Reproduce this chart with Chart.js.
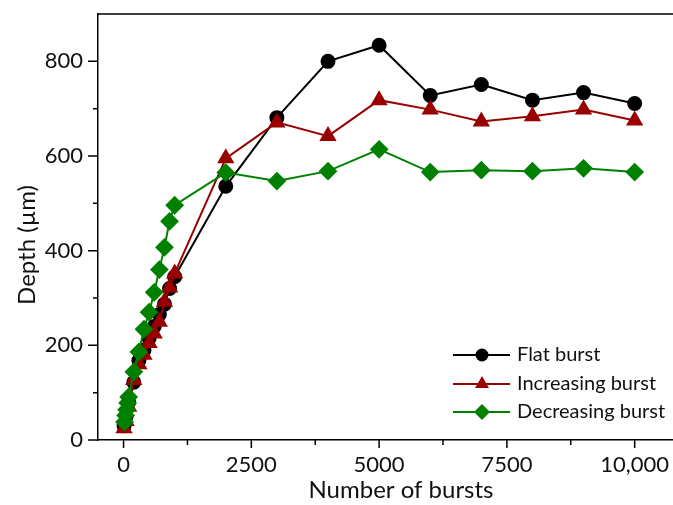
<!DOCTYPE html>
<html>
<head>
<meta charset="utf-8">
<script src="https://cdn.jsdelivr.net/npm/chart.js@4.4.0/dist/chart.umd.min.js"></script>
<style>
html, body { margin: 0; padding: 0; background: #fff; overflow: hidden; }
#wrap { width: 673px; height: 505px; }
</style>
</head>
<body>
<div id="wrap"><canvas id="myChart" width="673" height="505"></canvas></div>
<script>
// numero di burst (asse x)
var burstsX = [10, 50, 100, 200, 300, 400, 500, 600, 700, 800, 900, 1000, 2000, 3000, 4000, 5000, 6000, 7000, 8000, 9000, 10000];
var flatY = [30, 50, 80, 122, 168, 190, 215, 240, 265, 287, 320, 345, 536, 681, 800, 834, 728, 751, 718, 734, 711];
var incY = [25, 40, 70, 127, 160, 180, 205, 225, 250, 292, 322, 352, 595, 671, 642, 718, 698, 673, 684, 698, 675];
var decX = [20, 40, 60, 80, 100, 200, 300, 400, 500, 600, 700, 800, 900, 1000, 2000, 3000, 4000, 5000, 6000, 7000, 8000, 9000, 10000];
var decY = [38, 52, 64, 78, 91, 144, 186, 234, 270, 312, 360, 407, 462, 496, 565, 547, 568, 614, 566, 570, 568, 574, 566];

var xTicks = [0, 2500, 5000, 7500, 10000];
var xMinorTicks = [1250, 3750, 6250, 8750];
var yTicks = [0, 200, 400, 600, 800];
var yMinorTicks = [100, 300, 500, 700];

var xTitle = 'Number of bursts';
var yTitle = 'Depth (µm)';

var FONT = 'Lato, "Open Sans", sans-serif';

function toPoints(xs, ys) {
	return xs.map(function(x, i) { return { x: x, y: ys[i] }; });
}

// disegna il marker della legenda
function legendMarker(ctx, style, x, y, r) {
	ctx.beginPath();
	if (style === 'circle') {
		ctx.arc(x, y, r, 0, Math.PI * 2);
	} else if (style === 'triangle') {
		for (var k = 0; k < 3; k++) {
			var a = k * 2 * Math.PI / 3;
			var px = x + Math.sin(a) * r, py = y - Math.cos(a) * r;
			if (k === 0) ctx.moveTo(px, py); else ctx.lineTo(px, py);
		}
	} else {
		ctx.moveTo(x - r, y); ctx.lineTo(x, y - r); ctx.lineTo(x + r, y); ctx.lineTo(x, y + r);
	}
	ctx.closePath();
	ctx.fill();
}

var frameTicks = {
	id: 'frameTicks',
	afterDraw: function(chart) {
		var ctx = chart.ctx, a = chart.chartArea;
		var xs = chart.scales.x, ys = chart.scales.y;
		ctx.save();
		ctx.strokeStyle = '#000';
		ctx.lineWidth = 1.5;
		ctx.beginPath();
		ctx.moveTo(a.left, a.top); ctx.lineTo(a.right, a.top);
		yTicks.concat(yMinorTicks).forEach(function(v) {
			var py = ys.getPixelForValue(v);
			var len = yTicks.indexOf(v) >= 0 ? 10 : 5;
			ctx.moveTo(a.left - len, py); ctx.lineTo(a.left, py);
		});
		xTicks.concat(xMinorTicks).forEach(function(v) {
			var px = xs.getPixelForValue(v);
			var len = xTicks.indexOf(v) >= 0 ? 8 : 5;
			ctx.moveTo(px, a.bottom); ctx.lineTo(px, a.bottom + len);
		});
		ctx.stroke();

		// titoli degli assi
		ctx.fillStyle = '#111';
		ctx.font = '24px ' + FONT;
		ctx.textAlign = 'center';
		ctx.textBaseline = 'middle';
		ctx.fillText(xTitle, 401, 490);
		ctx.save();
		ctx.translate(27, 245);
		ctx.rotate(-Math.PI / 2);
		ctx.fillText(yTitle, 0, 0);
		ctx.restore();

		// legenda interna
		var rows = [355, 384, 412];
		var order = [2, 1, 0];
		ctx.font = '20px ' + FONT;
		ctx.textBaseline = 'middle';
		ctx.textAlign = 'left';
		order.forEach(function(di, i) {
			var ds = chart.data.datasets[di];
			var y = rows[i];
			ctx.strokeStyle = ds.borderColor;
			ctx.lineWidth = 2;
			ctx.beginPath();
			ctx.moveTo(453, y); ctx.lineTo(510, y);
			ctx.stroke();
			ctx.fillStyle = ds.pointBackgroundColor;
			legendMarker(ctx, ds.pointStyle, 482, y, ds.pointStyle === 'circle' ? 6.5 : 8);
			ctx.fillStyle = '#111';
			ctx.fillText(ds.label, 517, y);
		});
		ctx.restore();
	}
};

var ctx = document.getElementById('myChart').getContext('2d');
var myChart = new Chart(ctx, {
	type: 'scatter',
	data: {
		datasets: [{
			label: 'Decreasing burst',
			data: toPoints(decX, decY),
			borderColor: '#008000',
			backgroundColor: '#008000',
			pointBackgroundColor: '#008000',
			pointBorderColor: '#008000',
			pointStyle: 'rectRot',
			pointRadius: 8,
			borderWidth: 2,
			showLine: true,
			order: 0
		}, {
			label: 'Increasing burst',
			data: toPoints(burstsX, incY),
			borderColor: '#990000',
			backgroundColor: '#990000',
			pointBackgroundColor: '#990000',
			pointBorderColor: '#990000',
			pointStyle: 'triangle',
			pointRadius: 8,
			borderWidth: 2,
			showLine: true,
			order: 1
		}, {
			label: 'Flat burst',
			data: toPoints(burstsX, flatY),
			borderColor: '#000000',
			backgroundColor: '#000000',
			pointBackgroundColor: '#000000',
			pointBorderColor: '#000000',
			pointStyle: 'circle',
			pointRadius: 6.5,
			borderWidth: 2,
			showLine: true,
			order: 2
		}]
	},
	options: {
		responsive: false,
		animation: false,
		layout: { autoPadding: false, padding: { top: 14, right: 0, left: 0, bottom: 0 } },
		scales: {
			x: {
				type: 'linear',
				min: -500,
				max: 10750,
				afterBuildTicks: function(s) { s.ticks = xTicks.map(function(v) { return { value: v }; }); },
				afterFit: function(s) { s.height = 65; s.paddingLeft = 0; s.paddingRight = 0; },
				grid: { display: false, drawTicks: false },
				border: { display: true, color: '#000', width: 1.5 },
				ticks: {
					color: '#111',
					padding: 12,
					maxRotation: 0,
					font: { family: FONT, size: 22 },
					callback: function(v) { return v === 10000 ? '10,000' : String(v); }
				},
				title: { display: false }
			},
			y: {
				min: 0,
				max: 900,
				afterBuildTicks: function(s) { s.ticks = yTicks.map(function(v) { return { value: v }; }); },
				afterFit: function(s) { s.width = 98; s.paddingTop = 0; s.paddingBottom = 0; },
				grid: { display: false, drawTicks: false },
				border: { display: true, color: '#000', width: 1.5 },
				ticks: {
					color: '#111',
					padding: 15,
					font: { family: FONT, size: 22 }
				},
				title: { display: false }
			}
		},
		plugins: {
			legend: { display: false },
			tooltip: { enabled: false }
		}
	},
	plugins: [frameTicks]
});
</script>
</body>
</html>
